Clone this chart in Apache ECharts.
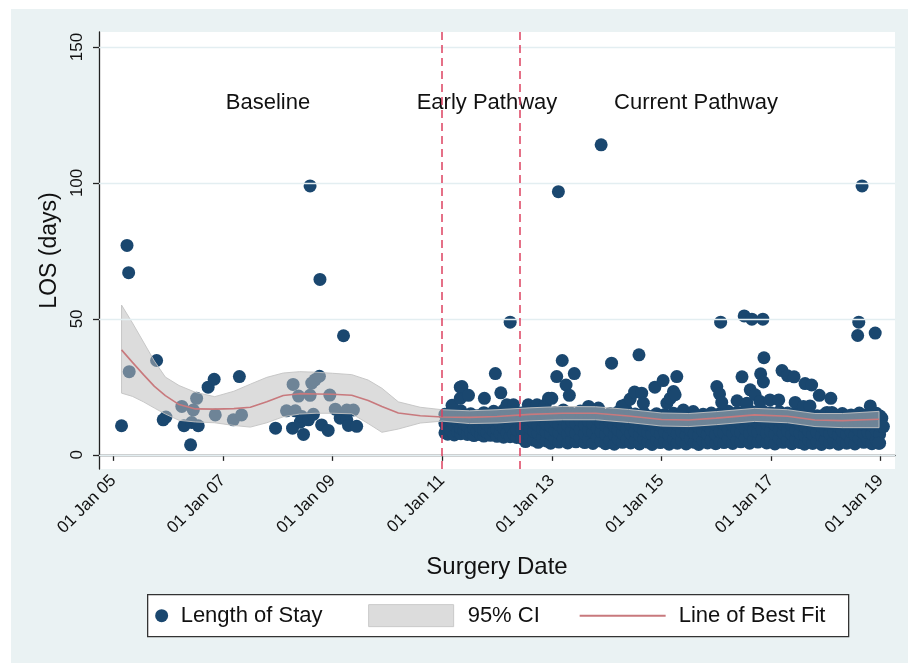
<!DOCTYPE html>
<html>
<head>
<meta charset="utf-8">
<script src="https://cdn.jsdelivr.net/npm/echarts@6/dist/echarts.min.js"></script>
<style>
  html, body { margin: 0; padding: 0; background: #fff; }
  #panel { position: absolute; left: 11px; top: 9px; width: 897px; height: 654px; background: #eaf2f3; }
  #chart { position: absolute; left: 0; top: 0; width: 908px; height: 663px; }
</style>
</head>
<body>
<div id="panel"></div>
<div id="chart"></div>
<script>
// tick positions
const xTicks = [2005, 2007, 2009, 2011, 2013, 2015, 2017, 2019];
const yTicks = [0, 50, 100, 150];
// pathway change dates (decimal year)
const phaseLines = [2011.0, 2012.42];

// length of stay, [surgery date as decimal year, days]
const losBaseline = [
  [2005.15, 10.7], [2005.25, 77], [2005.28, 67], [2005.29, 30.6], [2005.79, 34.7], [2005.91, 12.9],
  [2005.96, 13.9], [2006.25, 17.8], [2006.29, 10.7], [2006.41, 3.7], [2006.43, 11.9], [2006.46, 16.5],
  [2006.52, 20.8], [2006.55, 10.7], [2006.73, 24.9], [2006.84, 27.8], [2006.86, 14.7], [2007.19, 12.9],
  [2007.30, 28.8], [2007.34, 14.7], [2007.96, 9.8], [2008.16, 16.2], [2008.27, 9.8], [2008.28, 25.9],
  [2008.32, 16.2], [2008.38, 21.6], [2008.41, 12.0], [2008.44, 14.1], [2008.47, 7.5], [2008.56, 12.9],
  [2008.59, 21.9], [2008.59, 98.9], [2008.62, 26.4], [2008.65, 14.9], [2008.68, 27.6], [2008.76, 28.9],
  [2008.77, 64.5], [2008.80, 11.0], [2008.92, 9.0], [2008.95, 22.0], [2009.05, 16.8], [2009.14, 13.5],
  [2009.20, 43.8], [2009.26, 12.9], [2009.26, 16.5], [2009.29, 10.8], [2009.38, 16.5], [2009.44, 10.5]
];

const losEarly = [
  [2011.05, 8.1], [2011.05, 11.6], [2011.05, 14.9], [2011.10, 7.6], [2011.10, 10.2], [2011.10, 13.4],
  [2011.16, 9.0], [2011.16, 12.5], [2011.16, 15.8], [2011.22, 7.3], [2011.22, 10.9], [2011.22, 14.2],
  [2011.28, 8.4], [2011.28, 12.0], [2011.34, 7.8], [2011.34, 9.8], [2011.34, 13.1], [2011.34, 16.2],
  [2011.40, 8.9], [2011.40, 11.4], [2011.40, 14.6], [2011.46, 7.5], [2011.46, 10.6], [2011.46, 13.9],
  [2011.52, 8.2], [2011.52, 12.3], [2011.52, 15.1], [2011.58, 7.1], [2011.58, 9.6], [2011.58, 13.0],
  [2011.64, 8.7], [2011.64, 11.8], [2011.64, 14.4], [2011.70, 7.4], [2011.70, 10.4], [2011.76, 6.9],
  [2011.76, 9.1], [2011.76, 12.7], [2011.76, 15.5], [2011.82, 8.3], [2011.82, 11.2], [2011.82, 14.0],
  [2011.88, 7.2], [2011.88, 10.0], [2011.88, 13.6], [2011.94, 8.6], [2011.94, 12.2], [2011.94, 16.0],
  [2012.00, 6.8], [2012.00, 9.4], [2012.00, 12.9], [2012.06, 7.9], [2012.06, 11.0], [2012.06, 14.8],
  [2012.12, 6.5], [2012.12, 9.9], [2012.12, 13.3], [2012.12, 16.4], [2012.18, 8.0], [2012.18, 11.7],
  [2012.18, 15.2], [2012.24, 6.7], [2012.24, 10.3], [2012.24, 13.8], [2012.30, 7.7], [2012.30, 12.4],
  [2012.30, 16.6], [2012.36, 6.4], [2012.36, 9.2], [2012.36, 14.5],
  [2011.18, 18.2], [2011.33, 20.8], [2011.33, 24.9], [2011.36, 25.1], [2011.48, 21.9], [2011.77, 20.8],
  [2011.97, 29.9], [2012.07, 22.8], [2012.18, 18.4], [2012.30, 18.4], [2012.24, 48.8]
];

const losCurrent = [
  [2012.45, 6.1], [2012.45, 9.3], [2012.45, 12.6], [2012.45, 15.4], [2012.52, 4.9], [2012.52, 8.2], [2012.52, 11.5], [2012.52, 14.7],
  [2012.60, 6.6], [2012.60, 9.9], [2012.60, 13.2], [2012.60, 16.3], [2012.67, 5.4], [2012.67, 8.7], [2012.67, 11.9], [2012.67, 15.0],
  [2012.75, 4.6], [2012.75, 7.9], [2012.75, 10.8], [2012.75, 14.1], [2012.83, 6.3], [2012.83, 9.5], [2012.83, 12.8], [2012.83, 16.0],
  [2012.90, 5.1], [2012.90, 8.4], [2012.90, 11.3], [2012.90, 14.6], [2012.98, 4.3], [2012.98, 7.6], [2012.98, 10.5], [2012.98, 13.7],
  [2013.06, 5.8], [2013.06, 9.0], [2013.06, 12.2], [2013.06, 15.6], [2013.13, 4.7], [2013.13, 8.1], [2013.13, 11.1], [2013.13, 14.3],
  [2013.21, 6.0], [2013.21, 9.6], [2013.21, 13.0], [2013.21, 16.5], [2013.29, 4.4], [2013.29, 7.7], [2013.29, 10.9], [2013.29, 14.0],
  [2013.36, 5.5], [2013.36, 8.8], [2013.36, 12.4], [2013.36, 15.3], [2013.44, 4.8], [2013.44, 8.0], [2013.44, 11.6], [2013.44, 14.8],
  [2013.52, 6.2], [2013.52, 9.4], [2013.52, 12.7], [2013.52, 16.1], [2013.60, 4.5], [2013.60, 7.8], [2013.60, 11.0], [2013.60, 14.4],
  [2013.67, 5.7], [2013.67, 9.1], [2013.67, 12.3], [2013.67, 15.5], [2013.75, 4.2], [2013.75, 8.3], [2013.75, 11.4], [2013.75, 14.9],
  [2013.83, 6.4], [2013.83, 9.7], [2013.83, 13.1], [2013.83, 16.2], [2013.90, 5.0], [2013.90, 8.5], [2013.90, 11.8], [2013.90, 15.1],
  [2013.98, 4.1], [2013.98, 7.5], [2013.98, 10.7], [2013.98, 13.9], [2014.06, 5.3], [2014.06, 8.9], [2014.06, 12.1], [2014.06, 15.2],
  [2014.14, 3.9], [2014.14, 7.4], [2014.14, 10.6], [2014.14, 14.2], [2014.21, 5.9], [2014.21, 9.2], [2014.21, 12.5], [2014.21, 15.8],
  [2014.29, 4.6], [2014.29, 8.0], [2014.29, 11.2], [2014.29, 14.5], [2014.37, 5.6], [2014.37, 9.5], [2014.37, 12.9], [2014.37, 16.0],
  [2014.44, 4.4], [2014.44, 7.9], [2014.44, 11.3], [2014.44, 14.6], [2014.52, 5.2], [2014.52, 8.6], [2014.52, 11.9], [2014.52, 15.0],
  [2014.60, 4.0], [2014.60, 7.3], [2014.60, 10.5], [2014.60, 13.8], [2014.68, 5.8], [2014.68, 9.0], [2014.68, 12.4], [2014.68, 15.4],
  [2014.75, 4.7], [2014.75, 8.2], [2014.75, 11.1], [2014.75, 14.3], [2014.83, 3.8], [2014.83, 7.6], [2014.83, 10.8], [2014.83, 14.0],
  [2014.91, 5.5], [2014.91, 8.8], [2014.91, 12.0], [2014.91, 15.1], [2014.98, 4.5], [2014.98, 7.7], [2014.98, 10.9], [2014.98, 13.6],
  [2015.06, 5.1], [2015.06, 8.4], [2015.06, 11.7], [2015.06, 14.8], [2015.14, 3.9], [2015.14, 7.2], [2015.14, 10.4], [2015.14, 13.9],
  [2015.22, 5.7], [2015.22, 8.9], [2015.22, 12.2], [2015.22, 15.3], [2015.29, 4.3], [2015.29, 7.8], [2015.29, 11.0], [2015.29, 14.1],
  [2015.37, 5.4], [2015.37, 8.5], [2015.37, 11.6], [2015.37, 14.7], [2015.45, 4.0], [2015.45, 7.4], [2015.45, 10.6], [2015.45, 13.8],
  [2015.53, 5.9], [2015.53, 9.1], [2015.53, 12.3], [2015.53, 15.0], [2015.60, 4.6], [2015.60, 7.9], [2015.60, 11.2], [2015.60, 14.4],
  [2015.68, 3.8], [2015.68, 7.1], [2015.68, 10.3], [2015.68, 13.7], [2015.76, 5.3], [2015.76, 8.7], [2015.76, 11.8], [2015.76, 14.9],
  [2015.84, 4.4], [2015.84, 7.6], [2015.84, 10.9], [2015.84, 14.2], [2015.91, 5.6], [2015.91, 9.0], [2015.91, 12.5], [2015.91, 15.4],
  [2015.99, 4.1], [2015.99, 7.5], [2015.99, 11.1], [2015.99, 14.5], [2016.07, 5.0], [2016.07, 8.6], [2016.07, 12.0], [2016.07, 15.2],
  [2016.14, 4.5], [2016.14, 8.1], [2016.14, 11.4], [2016.14, 14.8], [2016.22, 6.0], [2016.22, 9.3], [2016.22, 12.8], [2016.22, 16.0],
  [2016.30, 4.2], [2016.30, 7.8], [2016.30, 11.0], [2016.30, 14.3], [2016.38, 5.4], [2016.38, 8.9], [2016.38, 12.4], [2016.38, 15.6],
  [2016.45, 4.8], [2016.45, 8.3], [2016.45, 11.7], [2016.45, 15.1], [2016.53, 6.1], [2016.53, 9.6], [2016.53, 13.0], [2016.53, 16.4],
  [2016.61, 4.3], [2016.61, 7.9], [2016.61, 11.3], [2016.61, 14.7], [2016.68, 5.5], [2016.68, 9.1], [2016.68, 12.6], [2016.68, 15.8],
  [2016.76, 4.7], [2016.76, 8.4], [2016.76, 11.9], [2016.76, 15.3], [2016.84, 5.9], [2016.84, 9.4], [2016.84, 12.9], [2016.84, 16.2],
  [2016.92, 4.4], [2016.92, 8.0], [2016.92, 11.5], [2016.92, 14.9], [2016.99, 5.2], [2016.99, 8.7], [2016.99, 12.2], [2016.99, 15.5],
  [2017.07, 4.0], [2017.07, 7.7], [2017.07, 11.1], [2017.07, 14.6], [2017.15, 5.8], [2017.15, 9.2], [2017.15, 12.7], [2017.15, 15.9],
  [2017.22, 4.6], [2017.22, 8.1], [2017.22, 11.4], [2017.22, 14.8], [2017.30, 5.3], [2017.30, 8.8], [2017.30, 12.1], [2017.30, 15.4],
  [2017.38, 4.1], [2017.38, 7.6], [2017.38, 10.9], [2017.38, 14.2], [2017.45, 5.6], [2017.45, 9.0], [2017.45, 12.3], [2017.45, 15.6],
  [2017.53, 4.5], [2017.53, 7.9], [2017.53, 11.2], [2017.53, 14.5], [2017.61, 3.9], [2017.61, 7.3], [2017.61, 10.6], [2017.61, 13.9],
  [2017.69, 5.4], [2017.69, 8.6], [2017.69, 11.8], [2017.69, 15.0], [2017.76, 4.2], [2017.76, 7.5], [2017.76, 10.7], [2017.76, 14.0],
  [2017.84, 5.0], [2017.84, 8.3], [2017.84, 11.5], [2017.84, 14.4], [2017.92, 3.8], [2017.92, 7.2], [2017.92, 10.4], [2017.92, 13.7],
  [2017.99, 5.7], [2017.99, 8.9], [2017.99, 12.0], [2017.99, 15.1], [2018.07, 4.4], [2018.07, 7.8], [2018.07, 11.0], [2018.07, 14.1],
  [2018.15, 5.1], [2018.15, 8.4], [2018.15, 11.6], [2018.15, 14.9], [2018.23, 3.9], [2018.23, 7.4], [2018.23, 10.5], [2018.23, 13.8],
  [2018.30, 5.5], [2018.30, 8.7], [2018.30, 11.9], [2018.30, 15.2], [2018.38, 4.3], [2018.38, 7.6], [2018.38, 10.8], [2018.38, 14.3],
  [2018.46, 5.2], [2018.46, 8.5], [2018.46, 11.7], [2018.46, 14.7], [2018.53, 4.0], [2018.53, 7.3], [2018.53, 10.6], [2018.53, 13.9],
  [2018.61, 5.8], [2018.61, 9.0], [2018.61, 12.2], [2018.61, 15.4], [2018.69, 4.6], [2018.69, 7.9], [2018.69, 11.1], [2018.69, 14.5],
  [2018.77, 5.3], [2018.77, 8.2], [2018.77, 11.4], [2018.77, 14.8], [2018.84, 4.1], [2018.84, 7.7], [2018.84, 10.9], [2018.84, 14.0],
  [2018.92, 5.6], [2018.92, 8.8], [2018.92, 12.1], [2018.92, 15.3], [2018.98, 4.3], [2018.98, 7.5], [2018.98, 10.7], [2018.98, 13.6],
  // higher stays
  [2012.57, 18.4], [2012.73, 18.4], [2012.88, 18.4], [2012.94, 20.8], [2013.00, 20.8], [2013.09, 28.8], [2013.12, 96.8],
  [2013.19, 34.7], [2013.26, 25.7], [2013.32, 21.9], [2013.41, 29.9], [2013.67, 17.8], [2013.85, 17.2], [2013.90, 114],
  [2014.09, 33.7], [2014.28, 18.0], [2014.34, 18.4], [2014.43, 20.5], [2014.51, 23.1], [2014.59, 36.8], [2014.64, 22.7],
  [2014.67, 19.0], [2014.88, 24.9], [2015.03, 27.3], [2015.10, 19.0], [2015.16, 20.8], [2015.22, 23.3], [2015.25, 22.1],
  [2015.28, 28.8], [2015.40, 16.5], [2015.58, 15.9], [2016.01, 25.1], [2016.06, 22.4], [2016.08, 48.8], [2016.10, 19.3],
  [2016.38, 19.9], [2016.47, 28.7], [2016.51, 51.1], [2016.56, 19.0], [2016.62, 23.9], [2016.65, 49.9], [2016.71, 22.1],
  [2016.80, 19.6], [2016.81, 29.8], [2016.85, 49.9], [2016.86, 26.8], [2016.87, 35.7], [2016.98, 20.2], [2017.14, 20.2],
  [2017.20, 31.0], [2017.30, 29.1], [2017.42, 28.7], [2017.44, 19.3], [2017.59, 17.8], [2017.62, 26.2], [2017.71, 18.0],
  [2017.74, 25.7], [2017.88, 21.9], [2018.02, 15.6], [2018.09, 20.8], [2018.11, 15.6], [2018.58, 43.9], [2018.60, 48.8],
  [2018.66, 98.9], [2018.81, 18.0], [2018.90, 44.8], [2018.99, 14.3], [2019.02, 13.5], [2019.05, 10.4], [2018.96, 4.3]
];

// smoothed fit and 95% CI
const fitYears = [2005.15, 2005.35, 2005.55, 2005.75, 2005.95, 2006.2, 2006.5, 2006.85, 2007.2, 2007.5, 2007.8,
  2008.1, 2008.4, 2008.7, 2009.0, 2009.35, 2009.65, 2009.9, 2010.2, 2010.6, 2011.0, 2011.5, 2012.0, 2012.6,
  2013.2, 2013.8, 2014.4, 2015.0, 2015.5, 2016.0, 2016.7, 2017.3, 2017.8, 2018.3, 2018.97];
const fitValues = [38.6, 34.0, 29.5, 25.2, 21.8, 18.5, 16.9, 16.8, 17.0, 17.5, 19.5,
  21.8, 22.5, 22.4, 22.3, 21.9, 20.0, 17.8, 15.4, 14.4, 13.9, 13.8, 14.1, 14.9,
  15.3, 15.3, 14.3, 13.0, 12.8, 13.5, 14.7, 14.2, 12.8, 12.6, 13.1];
const ciUpper = [55.1, 48.5, 41.5, 34.5, 28.6, 25.5, 23.0, 21.4, 23.4, 26.0, 28.5,
  30.1, 30.6, 30.4, 30.0, 29.5, 27.5, 24.5, 19.5, 17.5, 16.6, 16.2, 16.6, 17.3,
  17.8, 17.7, 16.7, 15.4, 15.2, 15.9, 17.1, 16.6, 15.2, 15.2, 16.0];
const ciLower = [22.7, 21.5, 19.5, 17.2, 15.0, 12.7, 12.1, 11.8, 10.8, 10.2, 11.8,
  14.0, 15.0, 15.3, 15.3, 15.1, 11.5, 8.3, 9.5, 11.7, 12.4, 11.5, 11.7, 12.5,
  12.9, 12.9, 11.9, 10.6, 10.4, 11.1, 12.3, 11.8, 10.4, 10.0, 10.0];

const navy = '#1a476f';
const font = '"Liberation Sans", Arial, Helvetica, sans-serif';
const chart = echarts.init(document.getElementById('chart'));

// CI band drawn as one polygon through the axis scales
function renderBand(params, api) {
  const pts = [];
  fitYears.forEach((x, i) => pts.push(api.coord([x, ciUpper[i]])));
  for (let i = fitYears.length - 1; i >= 0; i--) pts.push(api.coord([fitYears[i], ciLower[i]]));
  return {
    type: 'polygon',
    shape: { points: pts },
    style: { fill: 'rgba(188,188,188,0.52)', stroke: 'rgba(195,195,195,0.9)', lineWidth: 1 }
  };
}

const periodText = (x, text) => ({
  type: 'text', x: x, y: 103,
  style: { text: text, font: '22px ' + font, fill: '#111', align: 'center', verticalAlign: 'middle' }
});

chart.setOption({
  animation: false,
  backgroundColor: 'transparent',
  textStyle: { fontFamily: font },
  grid: { left: 99, right: 13, top: 32, bottom: 194, show: true, backgroundColor: '#fff', borderWidth: 0 },
  xAxis: {
    type: 'value', min: 2004.739, max: 2019.261,
    axisLine: { lineStyle: { color: '#222', width: 1.3 } },
    axisTick: { customValues: xTicks, length: 6, lineStyle: { color: '#222', width: 1.3 } },
    axisLabel: {
      customValues: xTicks, rotate: 45, fontSize: 17, color: '#111', margin: 9,
      formatter: v => '01 Jan ' + String(Math.round(v) % 100).padStart(2, '0')
    },
    splitLine: { show: false },
    name: 'Surgery Date', nameLocation: 'middle', nameGap: 86,
    nameTextStyle: { fontSize: 24, color: '#111' }
  },
  yAxis: {
    type: 'value', min: -5.2, max: 155.5,
    axisLine: { show: true, lineStyle: { color: '#222', width: 1.3 } },
    axisTick: { show: true, customValues: yTicks, length: 6, lineStyle: { color: '#222', width: 1.3 } },
    axisLabel: { customValues: yTicks, rotate: 90, fontSize: 17, color: '#111', margin: 13 },
    splitLine: { show: false },
    name: 'LOS (days)', nameLocation: 'middle', nameGap: 38,
    nameTextStyle: { fontSize: 23, color: '#111' }
  },
  graphic: [
    periodText(268, 'Baseline'),
    periodText(487, 'Early Pathway'),
    periodText(696, 'Current Pathway'),
    {
      type: 'group', left: 147, top: 594,
      children: [
        { type: 'rect', shape: { x: 0, y: 0, width: 701, height: 42 }, style: { fill: '#fff', stroke: '#333', lineWidth: 1.3 } },
        { type: 'circle', shape: { cx: 14, cy: 21, r: 6.5 }, style: { fill: navy } },
        { type: 'text', x: 33, y: 21, style: { text: 'Length of Stay', font: '22px ' + font, fill: '#111', verticalAlign: 'middle' } },
        { type: 'rect', shape: { x: 221, y: 10, width: 85, height: 22 }, style: { fill: '#dcdcdc', stroke: '#c9c9c9', lineWidth: 1 } },
        { type: 'text', x: 320, y: 21, style: { text: '95% CI', font: '22px ' + font, fill: '#111', verticalAlign: 'middle' } },
        { type: 'line', shape: { x1: 432, y1: 21, x2: 518, y2: 21 }, style: { stroke: '#c8797d', lineWidth: 2 } },
        { type: 'text', x: 531, y: 21, style: { text: 'Line of Best Fit', font: '22px ' + font, fill: '#111', verticalAlign: 'middle' } }
      ]
    }
  ],
  series: [
    {
      // grid lines and pathway boundaries
      type: 'line', data: [], silent: true, z: 1,
      markLine: {
        silent: true, symbol: 'none', label: { show: false },
        data: yTicks.map(v => ({ yAxis: v, lineStyle: { color: '#e3eef1', width: 1.3, type: 'solid' } }))
          .concat(phaseLines.map(v => ({ xAxis: v, lineStyle: { color: '#dd4260', width: 1.5, type: [8, 5] } })))
      }
    },
    {
      name: 'Length of Stay', type: 'scatter', symbolSize: 13, z: 2,
      itemStyle: { color: navy, opacity: 1 },
      data: losBaseline.concat(losEarly, losCurrent)
    },
    {
      name: '95% CI', type: 'custom', z: 3, silent: true,
      renderItem: renderBand, data: [0], clip: true
    },
    {
      name: 'Line of Best Fit', type: 'line', symbol: 'none', z: 4, silent: true,
      lineStyle: { color: '#c8797d', width: 1.6 },
      data: fitYears.map((x, i) => [x, fitValues[i]])
    }
  ]
});
</script>
</body>
</html>
